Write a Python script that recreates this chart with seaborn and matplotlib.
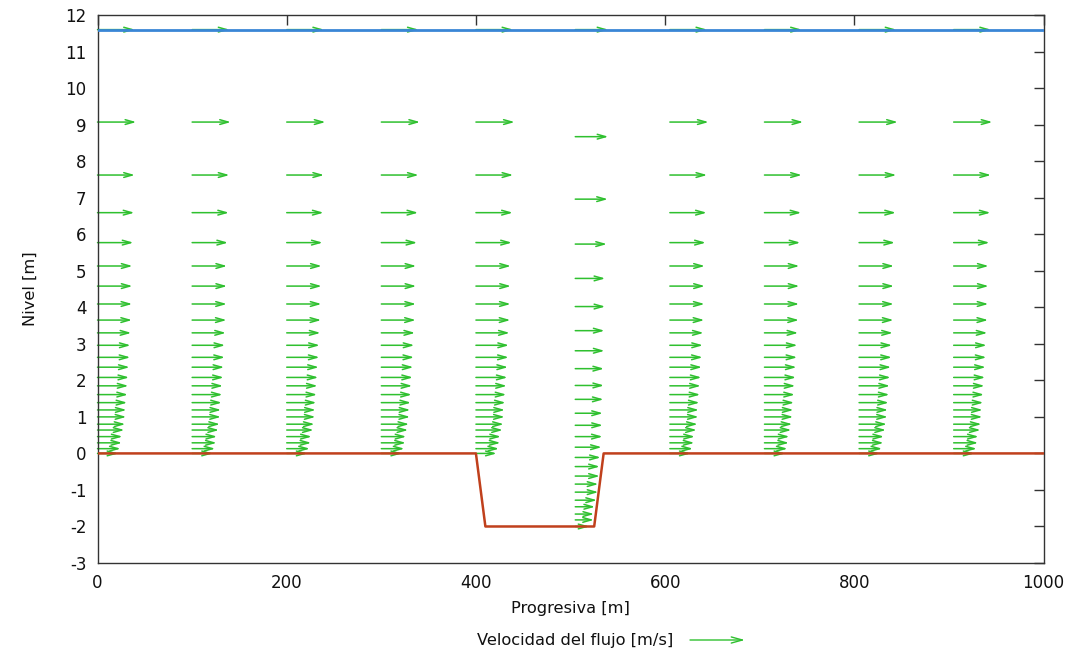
import matplotlib
matplotlib.use("Agg")
import matplotlib.pyplot as plt
import pandas as pd
import seaborn as sns

# Chainage (m) of the velocity profiles over the flat bed and inside the trench
stations_flat = [0, 100, 200, 300, 400, 605, 705, 805, 905]
station_trench = 505

# Sigma-layer elevations (m) and horizontal velocities (m/s) on the flat bed
levels_flat = [11.6, 9.07, 7.62, 6.59, 5.77, 5.13, 4.58, 4.09, 3.65, 3.30, 2.96,
               2.63, 2.36, 2.08, 1.85, 1.61, 1.39, 1.19, 1.00, 0.80, 0.64, 0.46,
               0.29, 0.13, 0.0]
u_flat = [0.79, 0.82, 0.79, 0.78, 0.76, 0.74, 0.74, 0.735, 0.73, 0.715, 0.70,
          0.695, 0.68, 0.67, 0.655, 0.645, 0.63, 0.615, 0.61, 0.59, 0.57, 0.53,
          0.52, 0.49, 0.44]

# Sigma-layer elevations (m) and velocities (m/s) over the trench
levels_trench = [11.6, 8.67, 6.96, 5.73, 4.79, 4.02, 3.36, 2.81, 2.32, 1.86, 1.48,
                 1.10, 0.77, 0.46, 0.17, -0.11, -0.36, -0.62, -0.84, -1.06, -1.28,
                 -1.46, -1.66, -1.82, -2.0]
u_trench = [0.70, 0.70, 0.69, 0.67, 0.635, 0.635, 0.62, 0.62, 0.61, 0.61, 0.60,
            0.585, 0.585, 0.58, 0.56, 0.54, 0.52, 0.52, 0.49, 0.49, 0.46,
            0.42, 0.40, 0.395, 0.30]

# Bed profile and free surface
bed_x = [0, 400, 410, 525, 535, 1000]
bed_z = [0, 0, -2, -2, 0, 0]
surface_x = [0, 1000]
surface_z = [11.6, 11.6]

x_ticks = [0, 200, 400, 600, 800, 1000]
y_ticks = list(range(-3, 13))

ARROW_SCALE = 50.0  # metres of chainage drawn per m/s
GREEN = "#2fc02f"
BLUE = "#3a86d6"
RED = "#c0401c"
AXIS = "#333333"
TEXT = "#111111"

sns.set_theme(style="white")
plt.rcParams["font.family"] = ["DejaVu Sans"]
plt.rcParams["axes.unicode_minus"] = False

fig = plt.figure(figsize=(10.86, 6.53), dpi=100)
ax = fig.add_axes([0.0898, 0.1378, 0.8711, 0.8392])

arrow_style = dict(arrowstyle="->,head_length=0.6,head_width=0.17",
                   color=GREEN, lw=1.1, shrinkA=0, shrinkB=0, mutation_scale=10)


def draw_profile(x0, levels, speeds):
    for z, u in zip(levels, speeds):
        ax.annotate("", xy=(x0 + u * ARROW_SCALE, z), xytext=(x0, z),
                    xycoords="data", textcoords="data",
                    arrowprops=arrow_style, zorder=2, annotation_clip=False)


for xs in stations_flat:
    draw_profile(xs, levels_flat, u_flat)
draw_profile(station_trench, levels_trench, u_trench)

bed = pd.DataFrame({"x": bed_x, "z": bed_z})
surface = pd.DataFrame({"x": surface_x, "z": surface_z})
sns.lineplot(data=bed, x="x", y="z", ax=ax, color=RED, lw=1.8,
             estimator=None, sort=False, zorder=3)
sns.lineplot(data=surface, x="x", y="z", ax=ax, color=BLUE, lw=2.0,
             estimator=None, sort=False, zorder=3)

ax.set_xlim(0, 1000)
ax.set_ylim(-3, 12)
ax.set_xticks(x_ticks)
ax.set_yticks(y_ticks)
ax.tick_params(direction="in", length=7, width=1, color=AXIS,
               top=True, right=True, labelsize=12, labelcolor=TEXT,
               pad=8)
for sp in ax.spines.values():
    sp.set_color(AXIS)
    sp.set_linewidth(1.0)
    sp.set_visible(True)

ax.set_xlabel("Progresiva [m]", fontsize=11.7, color=TEXT)
ax.set_ylabel("Nivel [m]", fontsize=11.7, color=TEXT)
ax.xaxis.set_label_coords(0.5, -0.069)
ax.yaxis.set_label_coords(-0.063, 0.5)

# Key for the velocity vectors below the plot
fig.text(673 / 1086, 1 - 641 / 653, "Velocidad del flujo [m/s]", fontsize=11.7,
         color=TEXT, ha="right", va="center")
ax.annotate("", xy=(745 / 1086, 1 - 640 / 653), xytext=(690 / 1086, 1 - 640 / 653),
            xycoords="figure fraction", textcoords="figure fraction",
            arrowprops=dict(arrowstyle="->,head_length=0.8,head_width=0.22",
                            color=GREEN, lw=1.0, shrinkA=0, shrinkB=0,
                            mutation_scale=10))

fig.savefig("out.png", dpi=100)
